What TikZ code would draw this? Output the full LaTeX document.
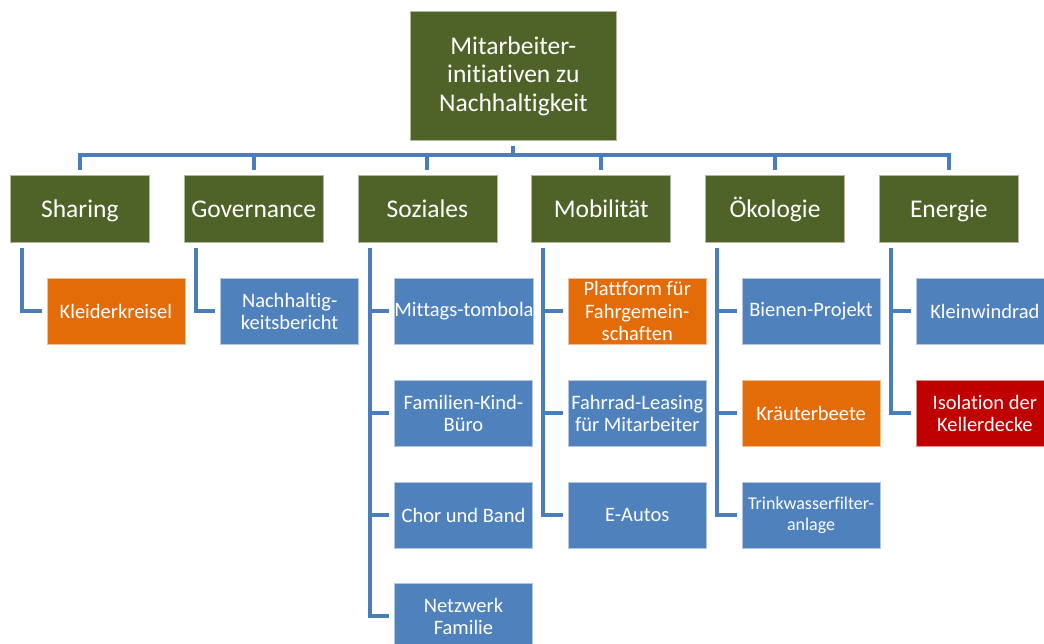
\documentclass[tikz,border=0pt]{standalone}
\usepackage{fontspec}
\setmainfont{Carlito}[Ligatures=NoCommon]
\usetikzlibrary{calc}
\definecolor{cgreen}{RGB}{79,98,40}
\definecolor{cblue}{RGB}{79,129,189}
\definecolor{corange}{RGB}{227,108,9}
\definecolor{cred}{RGB}{192,0,0}
\definecolor{cline}{RGB}{74,126,187}
\begin{document}
\begin{tikzpicture}[x=1pt,y=-1pt,
  box/.style={rectangle, inner sep=0pt, anchor=north west, text=white, align=center,
    fill=#1, draw=white!55!#1, line width=0.7pt},
  rootbox/.style={box=cgreen, minimum width=206pt, minimum height=129pt,
    font=\fontsize{25.5}{28.5}\selectfont},
  catbox/.style={box=cgreen, minimum width=139pt, minimum height=67pt,
    text height=17pt, text depth=0pt,
    font=\fontsize{25.5}{28.5}\selectfont},
  childbox/.style={box=#1, minimum width=138pt, minimum height=66pt,
    font=\fontsize{20.5}{22.5}\selectfont},
  conn/.style={draw=cline, line width=4pt}
]
\useasboundingbox (0,0) rectangle (1044,643);
\clip (0,0) rectangle (1044,643);

% root
\node[rootbox] (root) at (410,11) {Mitarbeiter-\\initiativen zu\\Nachhaltigkeit};

% categories
\node[catbox] (c1) at (10,175) {Sharing};
\node[catbox] (c2) at (183.8,175) {Governance};
\node[catbox] (c3) at (357.6,175) {Soziales};
\node[catbox] (c4) at (531.4,175) {Mobilität};
\node[catbox] (c5) at (705.2,175) {Ökologie};
\node[catbox] (c6) at (879,175) {Energie};

% children
\node[childbox=corange] (s1) at (46.5,278) {Kleiderkreisel};
\node[childbox=cblue] (g1) at (220.3,278) {Nachhaltig-\\keitsbericht};
\node[childbox=cblue] (z1) at (394.1,278) {Mittags-tombola};
\node[childbox=cblue] (z2) at (394.1,380) {Familien-Kind-\\Büro};
\node[childbox=cblue] (z3) at (394.1,482) {Chor und Band};
\node[childbox=cblue] (z4) at (394.1,583) {Netzwerk\\Familie};
\node[childbox=corange] (m1) at (567.9,278) {Plattform für\\Fahrgemein-\\schaften};
\node[childbox=cblue] (m2) at (567.9,380) {Fahrrad-Leasing\\für Mitarbeiter};
\node[childbox=cblue] (m3) at (567.9,482) {E-Autos};
\node[childbox=cblue] (o1) at (741.7,278) {Bienen-Projekt};
\node[childbox=corange] (o2) at (741.7,380) {Kräuterbeete};
\node[childbox=cblue, font=\fontsize{18}{21}\selectfont] (o3) at (741.7,482) {Trinkwasserfilter-\\anlage};
\node[childbox=cblue] (e1) at (915.5,278) {Kleinwindrad};
\node[childbox=cred] (e2) at (915.5,380) {Isolation der\\Kellerdecke};

% root to categories
\foreach \c in {c1,c2,c3,c4,c5,c6}
  \draw[conn] ([yshift=-5pt]root.south) |- ($(\c.north)+(0,-20)$) -- ([yshift=5pt]\c.north);

% categories to children
\foreach \c/\k in {c1/s1,c2/g1,c3/z1,c3/z2,c3/z3,c3/z4,c4/m1,c4/m2,c4/m3,c5/o1,c5/o2,c5/o3,c6/e1,c6/e2}
  \draw[conn] ($(\c.south west)+(12,5)$) |- ([xshift=-5pt]\k.west);
\end{tikzpicture}
\end{document}
